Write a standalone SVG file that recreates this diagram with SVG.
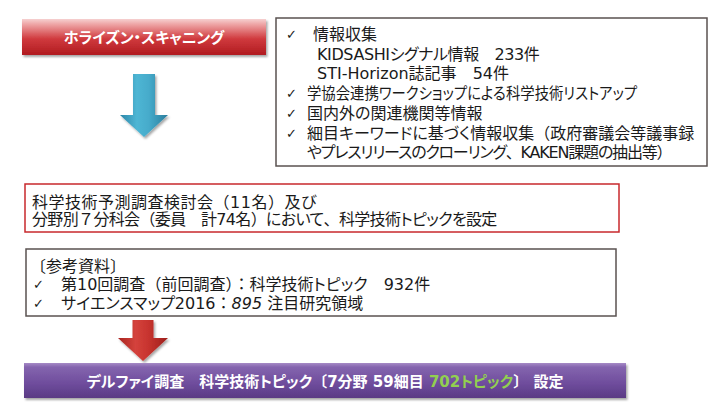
<svg xmlns="http://www.w3.org/2000/svg" width="725" height="418" viewBox="0 0 725 418">
<defs>
  <linearGradient id="gRed" x1="0" y1="0" x2="0" y2="1">
    <stop offset="0" stop-color="#f6d0d0"/>
    <stop offset="0.15" stop-color="#eea4a5"/>
    <stop offset="0.55" stop-color="#d03a3e"/>
    <stop offset="1" stop-color="#b01a1f"/>
  </linearGradient>
  <linearGradient id="gPurple" x1="0" y1="0" x2="0" y2="1">
    <stop offset="0" stop-color="#a68ac6"/>
    <stop offset="0.12" stop-color="#8464ae"/>
    <stop offset="0.6" stop-color="#6e4c9c"/>
    <stop offset="1" stop-color="#5a3a84"/>
  </linearGradient>
  <linearGradient id="gBlue" x1="0" y1="0" x2="1" y2="0">
    <stop offset="0" stop-color="#2b86a8"/>
    <stop offset="0.35" stop-color="#4fb6d4"/>
    <stop offset="0.6" stop-color="#46abcb"/>
    <stop offset="1" stop-color="#2a7d9c"/>
  </linearGradient>
  <linearGradient id="gArrowRed" x1="0" y1="0" x2="1" y2="0">
    <stop offset="0" stop-color="#a82520"/>
    <stop offset="0.35" stop-color="#d4423c"/>
    <stop offset="0.6" stop-color="#c8342f"/>
    <stop offset="1" stop-color="#9c1f1b"/>
  </linearGradient>
  <filter id="shadow" x="-5%" y="-20%" width="112%" height="160%">
    <feDropShadow dx="1.5" dy="2" stdDeviation="1.2" flood-color="#000" flood-opacity="0.35"/>
  </filter>
</defs>
<style>
  text { font-family: "DejaVu Sans", "Noto Sans CJK JP", sans-serif; font-feature-settings: "palt"; }
  .fw { font-feature-settings: normal; }
  .t { font-size: 16px; fill: #1a1a1a; }
  .w { font-size: 15px; font-weight: bold; fill: #ffffff; }
  .chk { font-size: 13px; fill: #1a1a1a; }
  .box { fill: #ffffff; stroke: #5a5250; stroke-width: 1.5; }
  .rbox { fill: #ffffff; stroke: #c8282d; stroke-width: 1.5; }
</style>

<g id="horizon-scanning">
  <rect x="22" y="19" width="244" height="36" fill="url(#gRed)" filter="url(#shadow)"/>
  <text class="w" x="144" y="42.5" text-anchor="middle">ホライズン・スキャニング</text>
</g>

<g id="connectors">
  <polygon points="133,74 155,74 155,115 168,115 144,137 120,115 133,115" fill="url(#gBlue)" filter="url(#shadow)"/>
  <polygon points="132.5,320 153.5,320 153.5,338 168,338 143,361 118,338 132.5,338" fill="url(#gArrowRed)" filter="url(#shadow)"/>
</g>

<g id="info-sources">
  <rect class="box" x="276" y="18" width="431" height="148"/>
  <text class="chk" x="286" y="39">✓</text>
  <text class="t" x="313" y="40">情報収集</text>
  <text class="t" x="317" y="59.7" letter-spacing="-0.4">KIDSASHIシグナル情報<tspan class="fw">　</tspan>233件</text>
  <text class="t" x="317" y="79.4">STI-Horizon誌記事<tspan class="fw">　</tspan>54件</text>
  <text class="chk" x="286" y="98">✓</text>
  <text class="t" x="307" y="99.1" textLength="330" lengthAdjust="spacingAndGlyphs">学協会連携ワークショップによる科学技術リストアップ</text>
  <text class="chk" x="286" y="118">✓</text>
  <text class="t" x="307" y="118.8">国内外の関連機関等情報</text>
  <text class="chk" x="286" y="137.5">✓</text>
  <text class="t" x="307" y="138.5">細目キーワードに基づく情報収集<tspan class="fw">（</tspan>政府審議会等議事録</text>
  <text class="t" x="307" y="158.2" letter-spacing="-1.2">やプレスリリースのクローリング<tspan class="fw">、</tspan>KAKEN課題の抽出等<tspan class="fw">）</tspan></text>
</g>

<g id="committee">
  <rect class="rbox" x="25" y="184" width="594" height="48"/>
  <text class="t" x="32" y="207.5" letter-spacing="0.5">科学技術予測調査検討会<tspan class="fw">（</tspan>11名<tspan class="fw">）</tspan>及び</text>
  <text class="t" x="32" y="225" letter-spacing="-0.65">分野別<tspan class="fw">７</tspan>分科会<tspan class="fw">（</tspan>委員<tspan class="fw">　</tspan>計74名<tspan class="fw">）</tspan>において<tspan class="fw">、</tspan>科学技術トピックを設定</text>
</g>

<g id="references">
  <rect class="box" x="26" y="249" width="590" height="67"/>
  <text class="t" x="30" y="271.5"><tspan class="fw">〔</tspan>参考資料<tspan class="fw">〕</tspan></text>
  <text class="chk" x="33" y="289">✓</text>
  <text class="t" x="61" y="290">第10回調査<tspan class="fw">（</tspan>前回調査<tspan class="fw">）：</tspan>科学技術トピック<tspan class="fw">　</tspan>932件</text>
  <text class="chk" x="33" y="308">✓</text>
  <text class="t" x="61" y="309">サイエンスマップ2016<tspan class="fw">：</tspan><tspan font-style="italic">895</tspan> 注目研究領域</text>
</g>

<g id="delphi">
  <rect x="24" y="363" width="602" height="35" fill="url(#gPurple)" filter="url(#shadow)"/>
  <text class="w" x="325" y="387" text-anchor="middle">デルファイ調査<tspan class="fw">　</tspan>科学技術トピック<tspan class="fw">〔</tspan>7分野 59細目 <tspan fill="#92d050">702トピック</tspan><tspan class="fw">〕</tspan> 設定</text>
</g>
</svg>
